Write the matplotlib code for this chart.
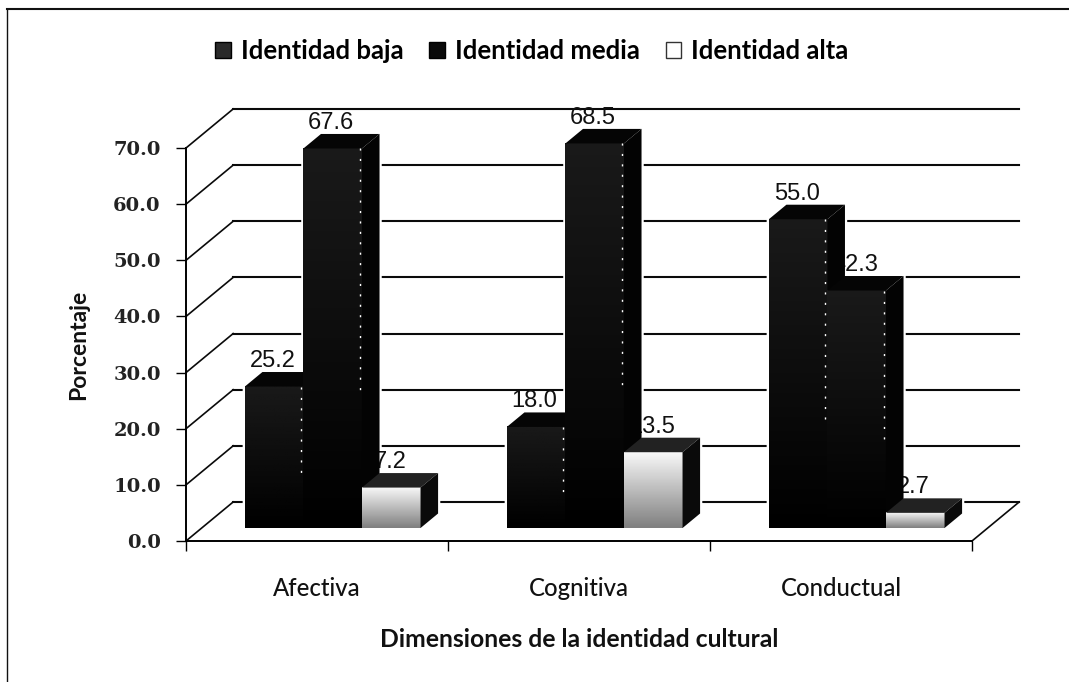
import matplotlib
matplotlib.use('Agg')
import matplotlib.pyplot as plt
from matplotlib.lines import Line2D
from matplotlib.patches import Patch, Polygon
import numpy as np

categories = ["Afectiva", "Cognitiva", "Conductual"]
series_names = ["Identidad baja", "Identidad media", "Identidad alta"]
baja = [25.2, 18.0, 55.0]
media = [67.6, 68.5, 42.3]
alta = [7.2, 13.5, 2.7]
y_ticks = [0, 10, 20, 30, 40, 50, 60, 70]

W, H = 1069, 682
DEPTH_X = 0.18   # depth of the box, in category units
DEPTH_Y = 6.95   # depth of the box, in percent units
D_FRONT = 0.333
D_BACK = 0.705
BAR_W = 0.2235


def shear(x, y, d):
    return x + d * DEPTH_X, y + d * DEPTH_Y


def face(ax, pts, color, z):
    ax.add_patch(Polygon(pts, closed=True, facecolor=color, edgecolor='none',
                         zorder=z, clip_on=False))


def gradient_face(ax, x0, x1, y0, y1, top, bottom, z):
    # front face, top colour fading to the bottom colour
    grad = np.linspace(top, bottom, 64).reshape(-1, 1)
    im = ax.imshow(grad, extent=(x0, x1, y0, y1), cmap='gray', vmin=0, vmax=1,
                   aspect='auto', origin='upper', zorder=z)
    im.set_clip_on(False)


def draw_bar(ax, x, v, j):
    z = 10 + j
    fx0, base = shear(x, 0, D_FRONT)
    fx1 = fx0 + BAR_W
    ftop = base + v
    bx0, btop = shear(x, v, D_BACK)
    bx1 = bx0 + BAR_W
    bbase = btop - v

    # white halo that breaks the gridlines round the bar
    outline = [(fx0, base), (fx0, ftop), (bx0, btop), (bx1, btop), (bx1, bbase), (fx1, base)]
    ax.add_patch(Polygon(outline, closed=True, facecolor='white', edgecolor='white',
                         linewidth=3.2, zorder=9, clip_on=False))

    if j == 2:
        gradient_face(ax, fx0, fx1, base, ftop, 0.97, 0.5, z)
        face(ax, [(fx0, ftop), (fx1, ftop), (bx1, btop), (bx0, btop)], '#222222', z)
        face(ax, [(fx1, base), (fx1, ftop), (bx1, btop), (bx1, bbase)], '#0a0a0a', z)
    else:
        gradient_face(ax, fx0, fx1, base, ftop, 0.1, 0.0, z)
        face(ax, [(fx0, ftop), (fx1, ftop), (bx1, btop), (bx0, btop)], '#050505', z)
        face(ax, [(fx1, base), (fx1, ftop), (bx1, btop), (bx1, bbase)], '#030303', z)
        # scanner dots along the front right edge
        ax.plot([fx1 - 0.008, fx1 - 0.008], [ftop, ftop - 0.65 * v], color='white',
                linewidth=1.0, linestyle=(0, (1.5, 6)), zorder=z, clip_on=False)

    # labels sit behind the bar to their left, as in the original
    ax.annotate(f"{v:.1f}", ((fx0 + fx1) / 2 - 0.006, btop), xytext=(0, 3.6), textcoords='offset points',
                ha='center', va='baseline', fontsize=17, family='Liberation Sans',
                color='#111111', zorder=z - 1.5 if j else 20, annotation_clip=False)


fig = plt.figure(figsize=(W / 100, H / 100), dpi=100, facecolor='white')
ax = fig.add_axes([186 / W, 1 - 541 / H, (972 - 186) / W, (541 - 148) / H])
ax.patch.set_visible(False)

for spine in ['top', 'right']:
    ax.spines[spine].set_visible(False)
ax.spines['left'].set_linewidth(1.4)
ax.spines['bottom'].set_linewidth(1.4)

# back wall, left wall and floor edge
for v in y_ticks:
    x0, y0 = shear(0, v, 1)
    x1, y1 = shear(3, v, 1)
    ax.plot([x0, x1], [y0, y1], color='#0a0a0a', linewidth=1.5, zorder=1, clip_on=False)
    ax.plot([0, x0], [v, y0], color='#0a0a0a', linewidth=1.2, zorder=1, clip_on=False)
rx, ry = shear(3, 0, 1)
ax.plot([3, rx], [0, ry], color='#0a0a0a', linewidth=1.2, zorder=1, clip_on=False)

for i in range(len(categories)):
    left = i + 0.5 - 1.5 * BAR_W
    for j, values in enumerate([baja, media, alta]):
        draw_bar(ax, left + j * BAR_W, values[i], j)

ax.set_xlim(0, 3)
ax.set_ylim(0, 70)

ax.set_yticks(y_ticks)
ax.set_yticklabels([f"{v:.1f}" for v in y_ticks], family='DejaVu Serif', fontweight='bold',
                   fontsize=14, color='#222222')
ax.tick_params(axis='y', length=7.2, width=1, pad=11)
ax.set_xticks([0, 1, 2, 3])
ax.set_xticklabels([])
ax.tick_params(axis='x', length=7.2, width=1)
ax.set_xticks([0.5, 1.5, 2.5], minor=True)
ax.set_xticklabels(categories, minor=True, family='Lato', fontweight='medium', fontsize=17.2,
                   color='#111111')
ax.tick_params(axis='x', which='minor', length=0, pad=26)

ax.set_xlabel("Dimensiones de la identidad cultural", family='Lato', fontweight='bold',
              fontsize=17.8, color='#111111', labelpad=20)
ax.set_ylabel("Porcentaje", family='Lato', fontweight='bold', fontsize=16.5, color='#111111',
              labelpad=17)

handles = [Patch(facecolor='#2a2a2a', edgecolor='black'),
           Patch(facecolor='#0a0a0a', edgecolor='black'),
           Patch(facecolor='white', edgecolor='#333333')]
fig.legend(handles, series_names, loc='center', bbox_to_anchor=(532 / W, 1 - 51 / H), ncols=3,
           frameon=False, handlelength=0.6, handleheight=0.6, handletextpad=0.4,
           columnspacing=1.0, prop={'family': 'Lato', 'weight': 'bold', 'size': 18.5})

# page frame left by the scan
fig.add_artist(Line2D([7 / W, 7 / W], [0, 1 - 9 / H], color='#111111', linewidth=1))
fig.add_artist(Line2D([7 / W, 1], [1 - 9 / H, 1 - 9 / H], color='#111111', linewidth=1.5))

fig.savefig('out.png', dpi=100)
